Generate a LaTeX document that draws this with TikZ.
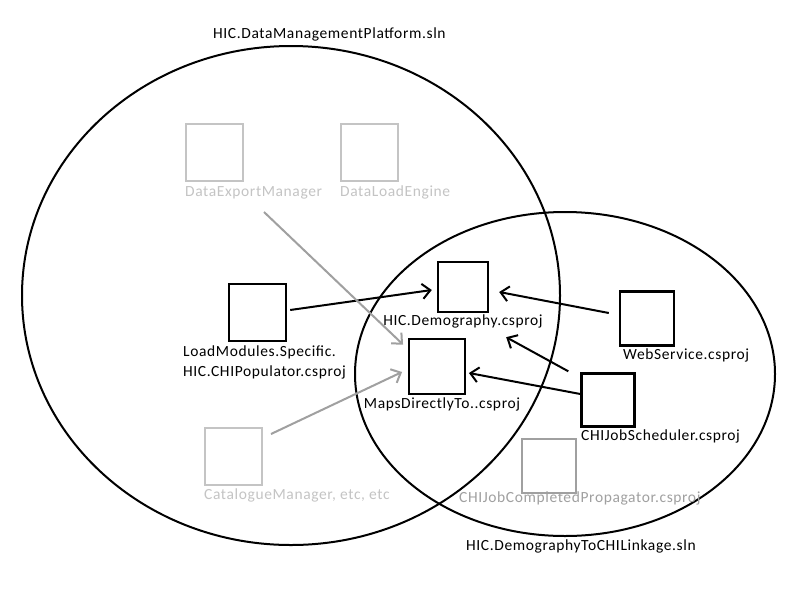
\documentclass[tikz,border=0pt]{standalone}
\usepackage{fontspec}
\setmainfont{Carlito}[LetterSpace=4]
\usetikzlibrary{arrows.meta}
\definecolor{lgray}{HTML}{C4C4C4}
\definecolor{mgray}{HTML}{A0A0A0}
\begin{document}
\begin{tikzpicture}[x=1pt,y=-1pt,
  box/.style={draw=black,line width=2.4pt,minimum width=#1,minimum height=#1,inner sep=0pt},
  gbox/.style={draw=lgray,line width=2pt,minimum width=#1,minimum height=#1,inner sep=0pt},
  pbox/.style={draw=mgray,line width=2pt,minimum width=#1,minimum height=#1,inner sep=0pt},
  lbl/.style={inner sep=0pt,font=\fontsize{15.5}{20}\selectfont},
  arr/.style={draw=black,line width=2pt,-{Straight Barb[length=8pt,width=15pt,line width=2pt]}},
  garr/.style={draw=mgray,line width=2pt,-{Straight Barb[length=8pt,width=15pt,line width=2pt]}},
  ring/.style={draw=black,line width=2pt}]
\useasboundingbox[fill=white] (0,0) rectangle (800,600);

% solution ellipses
\draw[ring] (291,295.5) ellipse [x radius=269pt, y radius=249.5pt];
\draw[ring] (565,374) ellipse [x radius=210pt, y radius=162pt];

% boxes
\node[gbox=57pt] (dem) at (214.5,152.5) {};
\node[gbox=57pt] (dle) at (369.5,152.5) {};
\node[box=57pt] (lm) at (257.5,312.5) {};
\node[box=50pt] (demo) at (463,287) {};
\node[box=55.5pt] (maps) at (437,366.5) {};
\node[box=54pt] (web) at (647,318.5) {};
\node[box=53pt] (sched) at (608,400) {};
\node[gbox=57pt] (cat) at (233.5,456.5) {};
\node[pbox=54pt] (prop) at (549,466) {};

% labels
\node[lbl,anchor=mid west] (t1) at (213,36) {HIC.DataManagementPlatform.sln};
\node[lbl,anchor=mid west,text=lgray] (l1) at (185,194) {DataExportManager};
\node[lbl,anchor=mid west,text=lgray] (l2) at (340,194) {DataLoadEngine};
\node[lbl,anchor=north west,align=left] (l3) at (183,346) {LoadModules.Specific.\\HIC.CHIPopulator.csproj};
\node[lbl,anchor=mid] (l4) at (463,323) {HIC.Demography.csproj};
\node[lbl,anchor=mid] (l5) at (442,406) {MapsDirectlyTo..csproj};
\node[lbl,anchor=mid west] (l6) at (623,357) {WebService.csproj};
\node[lbl,anchor=mid west] (l7) at (581,438) {CHIJobScheduler.csproj};
\node[lbl,anchor=mid west,text=mgray] (l8) at (459,500) {CHIJobCompletedPropagator.csproj};
\node[lbl,anchor=mid west,text=lgray] (l9) at (204,497) {CatalogueManager, etc, etc};
\node[lbl,anchor=mid west] (t2) at (466,548) {HIC.DemographyToCHILinkage.sln};

% connectors
\draw[arr] ([shift={(3,-2.5)}]lm.east) -- ([shift={(-5,3)}]demo.west);
\draw[arr] ([shift={(-10,-5.5)}]web.west) -- ([shift={(10,5)}]demo.east);
\draw[arr] ([shift={(-12,-1)}]sched.north west) -- ([shift={(17,24)}]demo.south east);
\draw[arr] ([shift={(0,-6)}]sched.west) -- ([shift={(3,6.5)}]maps.east);
\draw[garr] ([shift={(20,30)}]dem.south east) -- ([shift={(-5,7)}]maps.north west);
\draw[garr] ([shift={(8,7)}]cat.north east) -- ([shift={(-6,5.5)}]maps.west);
\end{tikzpicture}
\end{document}
